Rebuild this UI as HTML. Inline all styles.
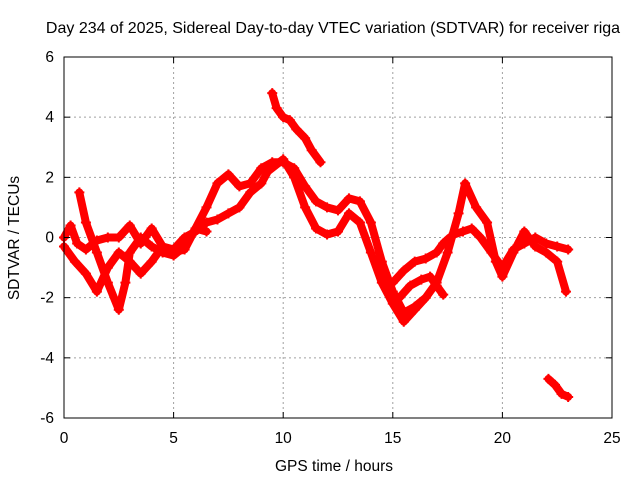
<!DOCTYPE html>
<html><head><meta charset="utf-8"><style>
body{margin:0;background:#fff}
svg{display:block;font-family:"Liberation Sans",sans-serif}
</style></head><body>
<svg id="chart" width="640" height="480" viewBox="0 0 640 480">
<text x="333" y="33" font-size="16" text-anchor="middle">Day 234 of 2025, Sidereal Day-to-day VTEC variation (SDTVAR) for receiver riga</text>
<text x="334" y="471" font-size="15.5" text-anchor="middle">GPS time / hours</text>
<text transform="translate(19,238) rotate(-90)" font-size="15.5" text-anchor="middle">SDTVAR / TECUs</text>
<g id="grid"></g><g id="marks"></g><g id="axes"></g>
</svg>
<script>
const xTicks=[0,5,10,15,20,25];
const yTicks=[6,4,2,0,-2,-4,-6];
const trackA_t=[9.5,9.7,10,10.3,10.6,11,11.3,11.7];
const trackA_v=[4.8,4.3,4.0,3.9,3.6,3.3,2.9,2.5];
const trackB_t=[0.7,1,1.5,2,2.5,2.8,3,3.5,4,4.5,5,5.5,6,6.5,7,7.5,8,8.5,9,9.5,10,10.5,11,11.5,12,12.5,13,13.5,14,14.5,15,15.5,16,16.5,17,17.5,18,18.3,18.8,19.3,19.7,20,20.5,21,21.5,22,22.5,22.9];
const trackB_v=[1.5,0.5,-0.5,-1.5,-2.4,-1.5,-0.5,0,-0.3,-0.5,-0.6,-0.3,0.3,1,1.8,2.1,1.7,1.8,2.3,2.5,2.5,2.3,1.7,1.2,1.0,0.9,1.3,1.2,0.5,-0.8,-1.8,-2.5,-2.3,-2,-1.5,-0.5,0.8,1.8,1,0.5,-0.8,-1.3,-0.5,0.2,-0.3,-0.5,-0.8,-1.8];
const trackC_t=[0,0.5,1,1.5,2,2.5,3,3.5,4,4.5,5,5.5,6,6.5,7,7.5,8,8.5,9,9.3,10,10.5,11,11.5,12,12.5,13,13.5,14,14.5,15,15.5,16,16.5];
const trackC_v=[-0.3,-0.8,-1.2,-1.8,-1.0,-0.5,-0.8,-1.2,-0.8,-0.3,-0.4,0,0.2,0.5,0.6,0.8,1.0,1.5,1.8,2.2,2.6,2.0,1.0,0.3,0.1,0.2,0.8,0.5,-0.5,-1.5,-2.2,-2.8,-2.4,-2.0];
const trackD_t=[0,0.3,0.6,1,1.5,2,2.5,3,3.5,4,4.5,5,5.5,6,6.5];
const trackD_v=[0,0.4,-0.2,-0.4,-0.1,0,0,0.4,-0.2,0.3,-0.3,-0.5,-0.4,0.3,0.2];
const trackE_t=[15,15.5,16,16.5,17,17.3,17.6,17.8,18.2,18.6,19,19.5,20,20.5,21,21.5,22,22.5,23];
const trackE_v=[-1.5,-1.1,-0.8,-0.7,-0.5,-0.2,0,0.1,0.2,0.3,0,-0.5,-1.0,-0.4,-0.2,0,-0.2,-0.3,-0.4];
const trackF_t=[15.3,15.8,16.3,16.7,17,17.3];
const trackF_v=[-2.0,-1.6,-1.4,-1.3,-1.6,-1.9];
const trackG_t=[22.1,22.4,22.7,23];
const trackG_v=[-4.7,-4.9,-5.2,-5.3];
const series=[[trackA_t,trackA_v],[trackB_t,trackB_v],[trackC_t,trackC_v],[trackD_t,trackD_v],[trackE_t,trackE_v],[trackF_t,trackF_v],[trackG_t,trackG_v]];
const X0=64,X1=612,Y0=418,Y1=57;
function sx(t){return X0+(t-0)/(25-0)*(X1-X0);}
function sy(v){return Y0-(v+6)/12*(Y0-Y1);}
const NS="http://www.w3.org/2000/svg";
function mk(tag,attrs,parent){const e=document.createElementNS(NS,tag);for(const k in attrs)e.setAttribute(k,attrs[k]);parent.appendChild(e);return e;}
const grid=document.getElementById('grid'),axes=document.getElementById('axes'),marks=document.getElementById('marks');
xTicks.forEach(t=>{
  if(t>0&&t<25){const g=mk('line',{x1:sx(t),x2:sx(t),y1:Y1,y2:Y0,stroke:'#a0a0a0','stroke-dasharray':'2,3'},grid);
  
  }
  mk('line',{x1:sx(t),x2:sx(t),y1:Y0,y2:Y0-6,stroke:'#000'},axes);
  mk('line',{x1:sx(t),x2:sx(t),y1:Y1,y2:Y1+6,stroke:'#000'},axes);
  const l=mk('text',{x:sx(t),y:Y0+25,'font-size':15.5,'text-anchor':'middle'},axes);l.textContent=t;
  
  
});
yTicks.forEach(v=>{
  if(v>-6&&v<6){const g=mk('line',{x1:X0,x2:X1,y1:sy(v),y2:sy(v),stroke:'#a0a0a0','stroke-dasharray':'2,3'},grid);
  
  }
  mk('line',{x1:X0,x2:X0+6,y1:sy(v),y2:sy(v),stroke:'#000'},axes);
  mk('line',{x1:X1,x2:X1-6,y1:sy(v),y2:sy(v),stroke:'#000'},axes);
  const l=mk('text',{x:X0-10,y:sy(v)+5,'font-size':15.5,'text-anchor':'end'},axes);l.textContent=v;
  
  
});
const fr=mk('rect',{x:X0,y:Y1,width:X1-X0,height:Y0-Y1,fill:'none',stroke:'#000'},axes);


series.forEach((s,i)=>{
  const [ts,vs]=s;
  const pts=ts.map((t,j)=>sx(t).toFixed(1)+','+sy(vs[j]).toFixed(1)).join(' ');
  const pl=mk('polyline',{points:pts,fill:'none',stroke:'#ff0000','stroke-width':8,'stroke-linejoin':'round','stroke-linecap':'round'},marks);
  
  
  ts.forEach((t,j)=>{
    const x=sx(t),y=sy(vs[j]);
    const p=mk('path',{d:`M${x-5},${y}H${x+5}M${x},${y-5}V${y+5}`,stroke:'#ff0000','stroke-width':2},marks);
    
    
  });
});
</script>
</body></html>
